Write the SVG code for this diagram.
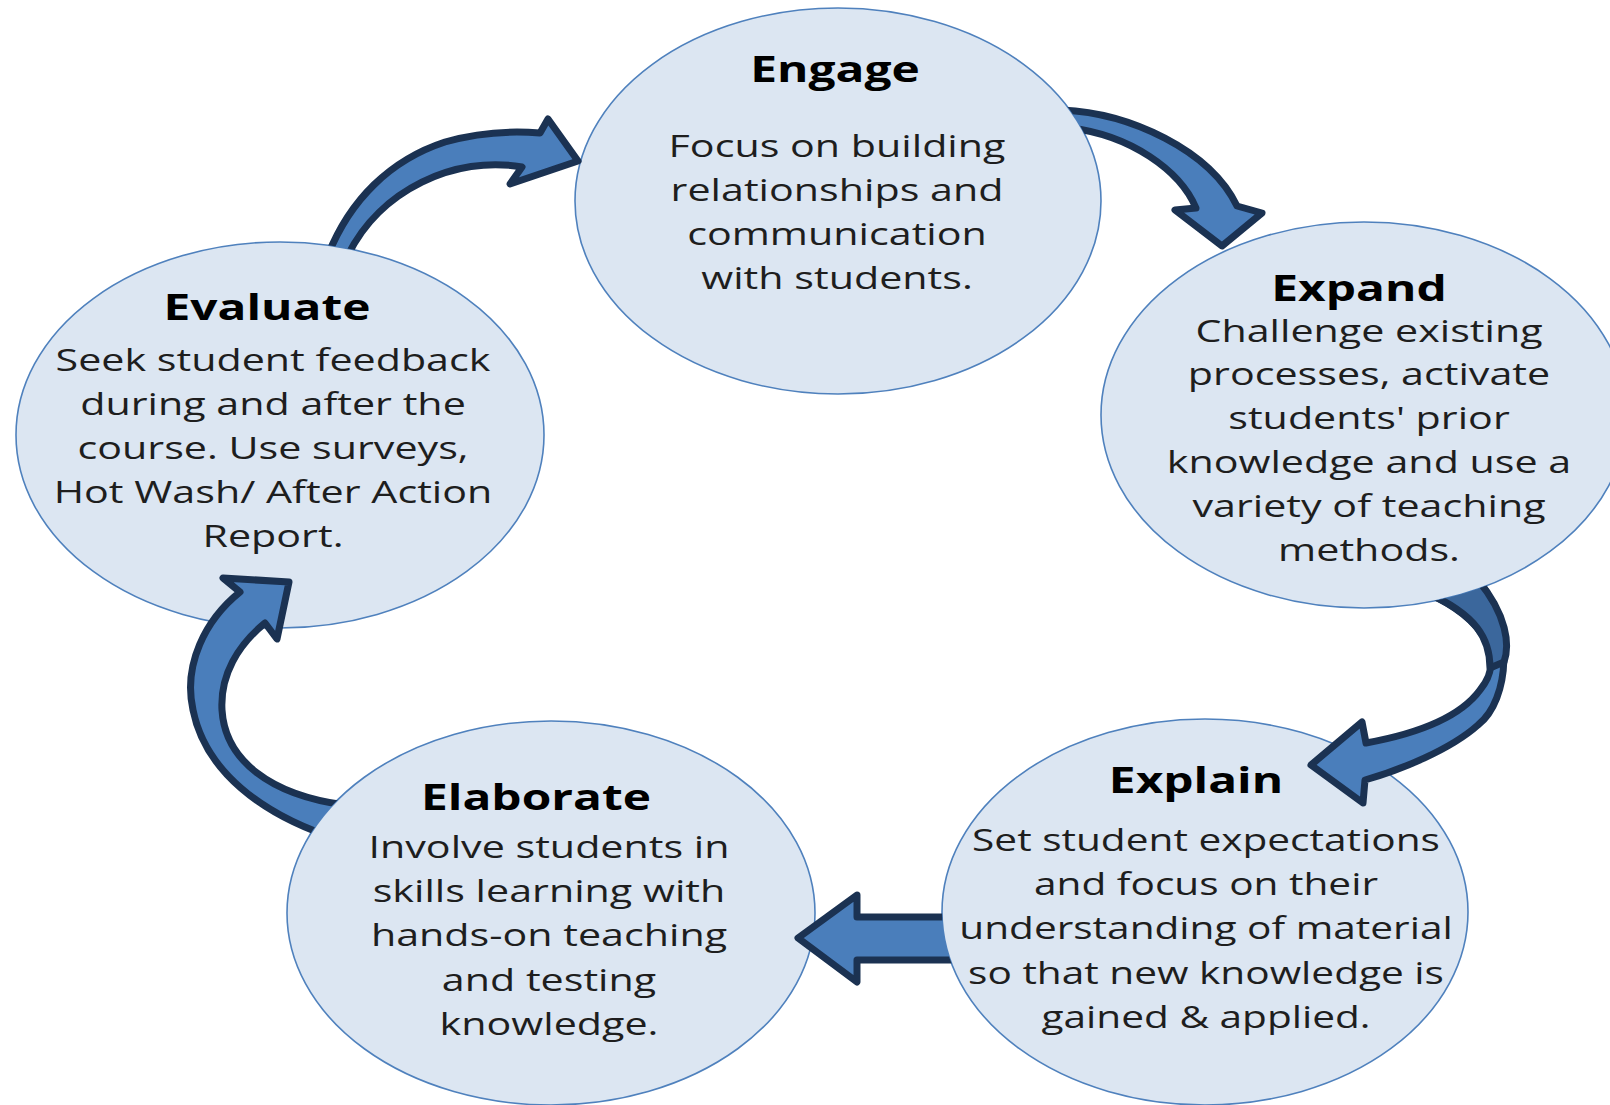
<svg xmlns="http://www.w3.org/2000/svg" width="1610" height="1105" viewBox="0 0 1610 1105">
<style>
.bubble{fill:#dce6f2;stroke:#4f81bd;stroke-width:1.6}
.arrow{fill:#4a7ebb;stroke:#1b3252;stroke-width:7;stroke-linejoin:round}
.back{fill:#3b679c;stroke:#1b3252;stroke-width:7;stroke-linejoin:round}
.title{font-family:"Open Sans","Liberation Sans",sans-serif;font-weight:bold;font-size:36px;fill:#000;text-anchor:middle}
.body{font-family:"Open Sans","Liberation Sans",sans-serif;font-size:31px;fill:#1e1e1e;text-anchor:middle}
</style>
<defs>
<clipPath id="notEvaluate"><path clip-rule="evenodd" d="M0,0H1610V1105H0Z M16,435 a264,193 0 1,0 528,0 a264,193 0 1,0 -528,0 Z"/></clipPath>
<clipPath id="notEngage"><path clip-rule="evenodd" d="M0,0H1610V1105H0Z M575,201 a263,193 0 1,0 526,0 a263,193 0 1,0 -526,0 Z"/></clipPath>
<clipPath id="notExpand"><path clip-rule="evenodd" d="M0,0H1610V1105H0Z M1101,415 a263,193 0 1,0 526,0 a263,193 0 1,0 -526,0 Z"/></clipPath>
<clipPath id="notExplain"><path clip-rule="evenodd" d="M0,0H1610V1105H0Z M942,912 a263,193 0 1,0 526,0 a263,193 0 1,0 -526,0 Z"/></clipPath>
<clipPath id="notElaborate"><path clip-rule="evenodd" d="M0,0H1610V1105H0Z M287,913 a264,192 0 1,0 528,0 a264,192 0 1,0 -528,0 Z"/></clipPath>
</defs>
<rect width="1610" height="1105" fill="#ffffff"/>

<g id="engage">
<ellipse class="bubble" cx="838" cy="201" rx="263" ry="193"/>
<g transform="translate(835,0) scale(1.33,1)"><text class="title" x="0" y="82">Engage</text></g>
<g transform="translate(837,0) scale(1.33,1)">
<text class="body" x="0" y="157">Focus on building</text>
<text class="body" x="0" y="201">relationships and</text>
<text class="body" x="0" y="245">communication</text>
<text class="body" x="0" y="289">with students.</text>
</g>
</g>

<g id="expand">
<ellipse class="bubble" cx="1364" cy="415" rx="263" ry="193"/>
<g transform="translate(1359,0) scale(1.33,1)"><text class="title" x="0" y="301">Expand</text></g>
<g transform="translate(1369,0) scale(1.33,1)">
<text class="body" x="0" y="342">Challenge existing</text>
<text class="body" x="0" y="385">processes, activate</text>
<text class="body" x="0" y="429">students' prior</text>
<text class="body" x="0" y="473">knowledge and use a</text>
<text class="body" x="0" y="517">variety of teaching</text>
<text class="body" x="0" y="561">methods.</text>
</g>
</g>

<g id="evaluate">
<ellipse class="bubble" cx="280" cy="435" rx="264" ry="193"/>
<g transform="translate(267,0) scale(1.33,1)"><text class="title" x="0" y="320">Evaluate</text></g>
<g transform="translate(273,0) scale(1.33,1)">
<text class="body" x="0" y="371">Seek student feedback</text>
<text class="body" x="0" y="415">during and after the</text>
<text class="body" x="0" y="459">course. Use surveys,</text>
<text class="body" x="0" y="503">Hot Wash/ After Action</text>
<text class="body" x="0" y="547">Report.</text>
</g>
</g>

<g id="elaborate">
<ellipse class="bubble" cx="551" cy="913" rx="264" ry="192"/>
<g transform="translate(536,0) scale(1.33,1)"><text class="title" x="0" y="810">Elaborate</text></g>
<g transform="translate(549,0) scale(1.33,1)">
<text class="body" x="0" y="858">Involve students in</text>
<text class="body" x="0" y="902">skills learning with</text>
<text class="body" x="0" y="946">hands-on teaching</text>
<text class="body" x="0" y="991">and testing</text>
<text class="body" x="0" y="1035">knowledge.</text>
</g>
</g>

<g id="explain">
<ellipse class="bubble" cx="1205" cy="912" rx="263" ry="193"/>
<g transform="translate(1196,0) scale(1.33,1)"><text class="title" x="0" y="793">Explain</text></g>
<g transform="translate(1206,0) scale(1.31,1)">
<text class="body" x="0" y="851">Set student expectations</text>
<text class="body" x="0" y="895">and focus on their</text>
<text class="body" x="0" y="939">understanding of material</text>
<text class="body" x="0" y="984">so that new knowledge is</text>
<text class="body" x="0" y="1028">gained &amp; applied.</text>
</g>
</g>

<g id="connectors">
<path id="evaluate-engage" class="arrow" clip-path="url(#notEvaluate)" d="M328,255 C350,200 390,160 445,142 C480,132 515,131 540,133 L548,119 L578,161 L510,184 L522,167 C455,155 380,190 348,255 Z"/>
<path id="engage-expand" class="arrow" clip-path="url(#notEngage)" d="M1062,110 C1130,113 1210,150 1237,206 L1262,213 L1222,246 L1175,210 L1196,208 C1180,170 1130,135 1070,128 Z"/>
<g id="expand-explain" clip-path="url(#notExpand)">
<path class="arrow" d="M1478,580 C1515,625 1510,700 1478,725 C1450,750 1400,770 1365,780 L1363,803 L1311,765 L1362,722 L1366,743 C1410,735 1458,720 1480,690 C1505,660 1488,620 1425,592 Z"/>
<path class="back" d="M1478,580 C1507,615 1510,645 1504,662 L1490,668 C1490,640 1478,615 1425,592 Z"/>
</g>
<path id="explain-elaborate" class="arrow" clip-path="url(#notExplain)" d="M960,917 L857,917 L857,895 L798,938 L857,982 L857,960 L960,960 Z"/>
<path id="elaborate-evaluate" class="arrow" clip-path="url(#notElaborate)" d="M340,840 C260,815 205,770 193,710 C183,665 205,620 240,592 L223,578 L289,582 L277,639 L265,623 C238,645 220,675 222,710 C225,760 270,795 345,805 Z"/>
</g>
</svg>
